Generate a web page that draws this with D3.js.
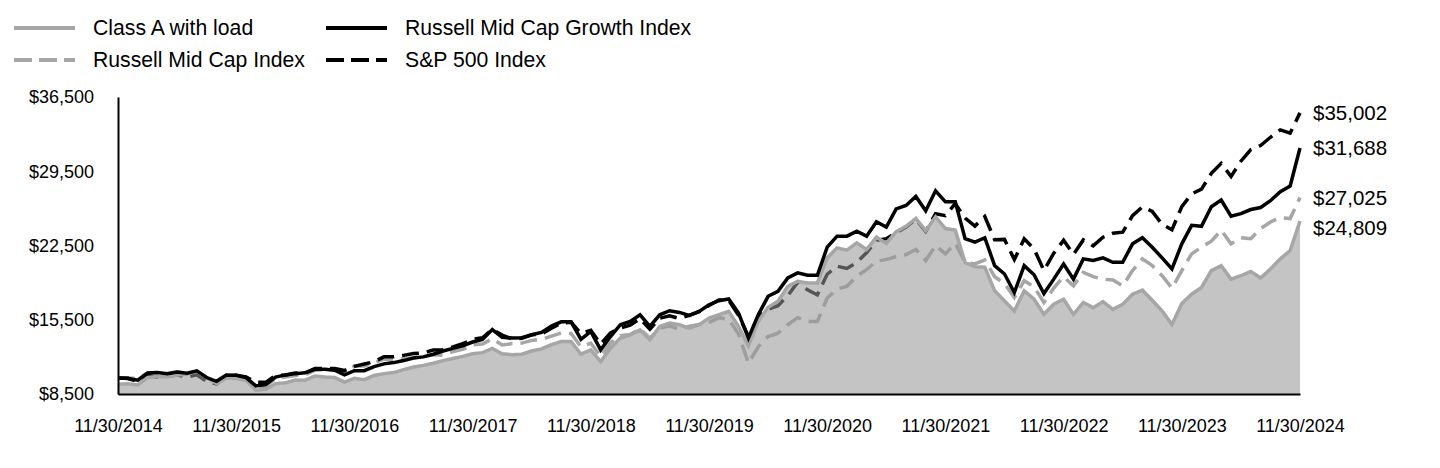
<!DOCTYPE html>
<html><head><meta charset="utf-8">
<script src="https://cdn.jsdelivr.net/npm/d3@7"></script>
<style>
html,body{margin:0;padding:0;background:#fff;}
svg{display:block;font-family:"Liberation Sans",Arial,sans-serif;}
</style></head><body>
<svg id="chart" width="1440" height="468"></svg>
<script>
const tickLabels = ["11/30/2014","11/30/2015","11/30/2016","11/30/2017","11/30/2018","11/30/2019","11/30/2020","11/30/2021","11/30/2022","11/30/2023","11/30/2024"];
const yTicks = [8500,15500,22500,29500,36500];
const seriesNames = ["Class A with load","Russell Mid Cap Growth Index","Russell Mid Cap Index","S&P 500 Index"];

const classA = [9425,9460,9350,10050,10150,10120,10300,10350,10650,10030,
9500,10020,9960,9800,8850,8950,9480,9550,9820,9800,
10200,10100,10050,9620,9980,9850,10250,10420,10520,10800,
11050,11200,11400,11650,11850,12050,12300,12400,12800,12300,
12200,12250,12550,12750,13150,13450,13450,12250,12650,11550,
12820,13770,14080,14550,13610,14870,15180,15030,14710,15030,
15660,15970,16290,14870,13050,15340,16670,17240,18650,19130,
18970,18970,21340,22280,22060,22750,22120,23290,22700,23800,
24300,25050,23900,25200,24100,23950,20900,20500,20450,18230,
17280,16330,18230,17430,16010,16960,17430,16010,17120,16640,
17210,16480,16960,17910,18290,17340,16330,15060,17020,17910,
18540,20130,20600,19330,19650,20060,19430,20280,21240,22030,
24809];

const rmcGrowth = [10000,9960,9800,10480,10520,10420,10580,10450,10680,10050,
9700,10300,10260,10050,9260,9380,10100,10300,10420,10500,
10830,10830,10750,10300,10700,10700,11080,11340,11460,11650,
11900,12000,12250,12550,12800,13050,13400,13650,14580,13850,
13770,13800,14080,14300,14900,15300,15300,13650,14400,12660,
13920,15030,15340,15970,14870,15970,16350,16190,15910,16290,
16920,17300,17460,16130,13770,15970,17710,18180,19440,19920,
19690,19690,22340,23380,23380,23850,23380,24740,24240,25950,
26270,27120,25770,27660,26620,26620,23140,22820,23230,20600,
19810,18070,20600,19740,17970,19330,20760,19330,21240,21080,
21330,20920,20920,22660,23230,22340,21330,20290,22660,24400,
24310,26150,26780,25260,25510,25890,26080,26720,27570,28110,
31688];

const rmc = [10000,10040,9930,10480,10510,10420,10590,10400,10420,9830,
9470,10030,10070,9790,9180,9230,9990,10090,10250,10310,
10740,10790,10810,10440,11130,11150,11440,11780,11750,11830,
11910,12050,12190,12150,12500,12700,13130,13210,13710,13120,
13250,13300,13550,13650,13950,14250,14200,12950,13300,12020,
13320,13990,14110,14650,13760,14710,14920,14590,14880,15050,
15240,15684,15540,14160,11400,12950,13920,14240,15030,15700,
15340,15340,17550,18400,18650,19600,20230,21020,21180,21450,
21650,22120,21080,22500,21710,22720,20920,20760,21140,19560,
18920,17590,19180,18610,17120,18480,19560,18700,19970,19560,
19330,19240,18700,20130,21240,20600,19650,18480,20130,21710,
22340,22910,23930,22660,23230,23140,24090,24720,25130,25040,
27025];

const sp500 = [10000,9975,9676,10232,10070,10167,10298,10098,10310,9688,
9449,10247,10278,10116,9614,9602,10253,10293,10478,10505,
10893,10908,10910,10711,11108,11328,11543,12001,12016,12140,
12311,12387,12642,12681,12942,13244,13650,13802,14593,14054,
13697,13749,14080,14168,14695,15174,15260,14217,14507,13197,
14254,14712,14997,15605,14614,15645,15870,15619,15911,16256,
16846,17355,17348,15920,13954,15743,16492,16820,17769,19047,
18323,17836,19789,20549,20342,20903,21819,22984,23145,23684,
24248,24985,23823,25493,25317,26451,25084,24334,25237,23036,
23077,21173,23125,22182,20139,21771,22988,21664,23025,22463,
23287,23651,23752,25322,26135,25719,24493,23979,26168,27356,
27816,29301,30245,29011,30450,31543,31928,32704,33404,33100,
35002];

const svg = d3.select("#chart");
const x = d3.scaleLinear().domain([0, classA.length - 1]).range([118, 1300]);
const y = d3.scaleLinear().domain([8500, 36500]).range([394, 97]);
const fmt = d => "$" + d3.format(",")(d);

const grayLine = "#a6a6a6";
const dash = "17,8";

// legend
const leg = svg.append("g");
const legendItems = [
  {name: seriesNames[0], col: grayLine, dash: null, lx: 14, tx: 93, cy: 28},
  {name: seriesNames[1], col: "#000", dash: null, lx: 326, tx: 405, cy: 28},
  {name: seriesNames[2], col: grayLine, dash: "18,7", lx: 14, tx: 93, cy: 60},
  {name: seriesNames[3], col: "#000", dash: "18,7", lx: 326, tx: 405, cy: 60}
];
legendItems.forEach(d => {
  leg.append("line").attr("x1", d.lx).attr("x2", d.lx + 61).attr("y1", d.cy).attr("y2", d.cy)
    .attr("stroke", d.col).attr("stroke-width", 4).attr("stroke-dasharray", d.dash);
  leg.append("text").attr("x", d.tx).attr("y", d.cy).attr("dy", "0.35em")
    .attr("font-size", "21.2px").attr("fill", "#000").text(d.name);
});

const lineGen = arr => d3.line().x((d, i) => x(i)).y(d => y(d))(arr);

// lines under the area
svg.append("path").attr("d", lineGen(rmc)).attr("fill", "none")
  .attr("stroke", grayLine).attr("stroke-width", 3.5).attr("stroke-dasharray", dash);
svg.append("path").attr("d", lineGen(sp500)).attr("fill", "none")
  .attr("stroke", "#000").attr("stroke-width", 3.5).attr("stroke-dasharray", dash);

// area
const area = d3.area().x((d, i) => x(i)).y0(y(8500)).y1(d => y(d));
svg.append("path").attr("d", area(classA)).attr("fill", "#969696").attr("fill-opacity", 0.565);

svg.append("path").attr("d", lineGen(classA)).attr("fill", "none")
  .attr("stroke", grayLine).attr("stroke-width", 3.5);
svg.append("path").attr("d", lineGen(rmcGrowth)).attr("fill", "none")
  .attr("stroke", "#000").attr("stroke-width", 3.5);

// axes
const yAxis = d3.axisLeft(y).tickValues(yTicks).tickFormat(fmt).tickSize(0).tickSizeOuter(0).tickPadding(24);
const gy = svg.append("g").attr("transform", "translate(118,0)").call(yAxis);
gy.select(".domain").attr("stroke", "#000").attr("stroke-width", 2);
gy.selectAll("text").attr("font-size", "18px").attr("fill", "#000").attr("font-family", "Liberation Sans, Arial, sans-serif");

const xAxis = d3.axisBottom(x).tickValues(tickLabels.map((d, i) => i * 12))
  .tickFormat((d, i) => tickLabels[i]).tickSize(0).tickSizeOuter(0).tickPadding(25);
const gx = svg.append("g").attr("transform", "translate(0,394)").call(xAxis);
gx.select(".domain").attr("stroke", "#000").attr("stroke-width", 2);
gx.selectAll("text").attr("font-size", "18px").attr("fill", "#000").attr("font-family", "Liberation Sans, Arial, sans-serif");

// end labels
const ends = [
  {v: sp500[sp500.length - 1]},
  {v: rmcGrowth[rmcGrowth.length - 1]},
  {v: rmc[rmc.length - 1]},
  {v: classA[classA.length - 1]}
].map(d => ({v: d.v, y: y(d.v)})).sort((a, b) => a.y - b.y);
for (let k = 1; k < ends.length; k++) {
  if (ends[k].y - ends[k - 1].y < 30) ends[k].y = ends[k - 1].y + 30;
}
svg.append("g").selectAll("text").data(ends).join("text")
  .attr("x", 1313).attr("y", d => d.y).attr("dy", "0.35em")
  .attr("font-size", "20.5px").attr("fill", "#000").text(d => fmt(d.v));
</script>
</body></html>
